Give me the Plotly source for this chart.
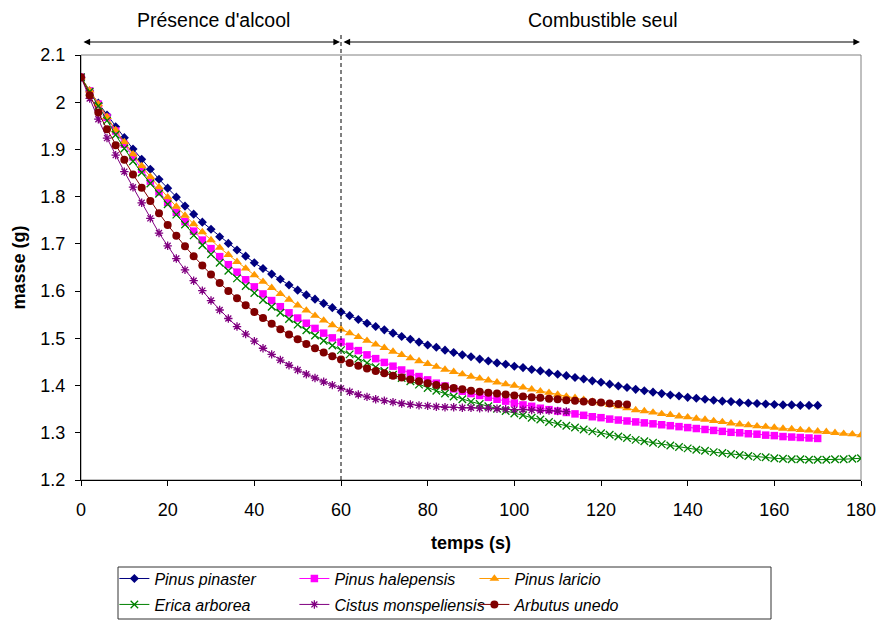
import plotly.graph_objects as go

# ---------------- data ----------------
temps = [0, 2, 4, 6, 8, 10, 12, 14, 16, 18, 20, 22, 24, 26, 28, 30, 32, 34, 36, 38,
         40, 42, 44, 46, 48, 50, 52, 54, 56, 58, 60, 62, 64, 66, 68, 70, 72, 74, 76, 78,
         80, 82, 84, 86, 88, 90, 92, 94, 96, 98, 100, 102, 104, 106, 108, 110, 112, 114,
         116, 118, 120, 122, 124, 126, 128, 130, 132, 134, 136, 138, 140, 142, 144, 146,
         148, 150, 152, 154, 156, 158, 160, 162, 164, 166, 168, 170, 172, 174, 176, 178, 180]

pinus_pinaster = [2.053, 2.024, 1.998, 1.973, 1.948, 1.925, 1.901, 1.879, 1.858, 1.837,
                  1.818, 1.799, 1.780, 1.763, 1.746, 1.731, 1.715, 1.701, 1.687, 1.674,
                  1.660, 1.648, 1.636, 1.625, 1.613, 1.602, 1.592, 1.583, 1.574, 1.565,
                  1.556, 1.548, 1.540, 1.532, 1.525, 1.518, 1.511, 1.504, 1.498, 1.492,
                  1.486, 1.481, 1.475, 1.470, 1.465, 1.461, 1.456, 1.452, 1.448, 1.445,
                  1.441, 1.438, 1.434, 1.431, 1.427, 1.424, 1.421, 1.417, 1.414, 1.410,
                  1.407, 1.403, 1.399, 1.396, 1.392, 1.389, 1.386, 1.383, 1.380, 1.378,
                  1.375, 1.373, 1.371, 1.369, 1.367, 1.366, 1.364, 1.363, 1.362, 1.361,
                  1.360, 1.359, 1.359, 1.358, 1.358, 1.358]

pinus_halepensis = [2.053, 2.024, 1.996, 1.968, 1.939, 1.911, 1.884, 1.858, 1.833, 1.810,
                    1.788, 1.767, 1.747, 1.727, 1.708, 1.690, 1.673, 1.656, 1.640, 1.624,
                    1.609, 1.594, 1.580, 1.567, 1.554, 1.543, 1.532, 1.521, 1.511, 1.501,
                    1.492, 1.483, 1.474, 1.465, 1.457, 1.449, 1.441, 1.433, 1.426, 1.419,
                    1.412, 1.405, 1.399, 1.393, 1.388, 1.383, 1.379, 1.375, 1.371, 1.367,
                    1.363, 1.359, 1.356, 1.352, 1.349, 1.346, 1.343, 1.340, 1.337, 1.334,
                    1.332, 1.329, 1.327, 1.325, 1.323, 1.321, 1.319, 1.317, 1.315, 1.313,
                    1.311, 1.309, 1.307, 1.305, 1.303, 1.301, 1.300, 1.298, 1.297, 1.295,
                    1.294, 1.292, 1.291, 1.290, 1.289, 1.288]

pinus_laricio = [2.053, 2.025, 1.996, 1.969, 1.941, 1.916, 1.890, 1.865, 1.842, 1.820,
                 1.799, 1.779, 1.760, 1.742, 1.725, 1.708, 1.692, 1.677, 1.662, 1.648,
                 1.634, 1.620, 1.607, 1.594, 1.582, 1.570, 1.559, 1.548, 1.538, 1.528,
                 1.519, 1.511, 1.503, 1.495, 1.487, 1.480, 1.472, 1.465, 1.458, 1.452,
                 1.446, 1.440, 1.434, 1.429, 1.424, 1.419, 1.415, 1.411, 1.407, 1.403,
                 1.400, 1.396, 1.392, 1.388, 1.385, 1.381, 1.377, 1.374, 1.370, 1.366,
                 1.363, 1.359, 1.356, 1.352, 1.348, 1.346, 1.343, 1.340, 1.338, 1.335,
                 1.333, 1.330, 1.328, 1.325, 1.323, 1.320, 1.318, 1.316, 1.314, 1.313,
                 1.311, 1.309, 1.308, 1.306, 1.305, 1.303, 1.302, 1.300, 1.298, 1.297, 1.295]

erica_arborea = [2.053, 2.022, 1.992, 1.961, 1.931, 1.902, 1.875, 1.851, 1.828, 1.806,
                 1.784, 1.762, 1.741, 1.718, 1.697, 1.678, 1.660, 1.643, 1.627, 1.611,
                 1.596, 1.581, 1.567, 1.554, 1.541, 1.529, 1.517, 1.506, 1.495, 1.485,
                 1.475, 1.466, 1.457, 1.448, 1.439, 1.431, 1.423, 1.416, 1.409, 1.402,
                 1.395, 1.389, 1.383, 1.377, 1.371, 1.366, 1.361, 1.356, 1.351, 1.346,
                 1.341, 1.337, 1.332, 1.328, 1.323, 1.319, 1.315, 1.311, 1.307, 1.303,
                 1.299, 1.296, 1.292, 1.289, 1.285, 1.282, 1.279, 1.276, 1.273, 1.270,
                 1.267, 1.264, 1.262, 1.259, 1.257, 1.255, 1.253, 1.251, 1.249, 1.248,
                 1.246, 1.245, 1.244, 1.244, 1.243, 1.243, 1.243, 1.244, 1.244, 1.245, 1.246]

cistus_monspeliensis = [2.053, 2.008, 1.964, 1.924, 1.888, 1.853, 1.820, 1.787, 1.754, 1.723,
                        1.696, 1.669, 1.645, 1.622, 1.601, 1.580, 1.560, 1.542, 1.525, 1.509,
                        1.494, 1.479, 1.466, 1.454, 1.443, 1.433, 1.424, 1.416, 1.408, 1.401,
                        1.394, 1.387, 1.381, 1.376, 1.371, 1.368, 1.365, 1.362, 1.360, 1.358,
                        1.357, 1.355, 1.354, 1.354, 1.353, 1.353, 1.352, 1.352, 1.351, 1.350,
                        1.349, 1.349, 1.348, 1.347, 1.347, 1.346, 1.345]

arbutus_unedo = [2.053, 2.015, 1.978, 1.943, 1.909, 1.878, 1.847, 1.819, 1.791, 1.765,
                 1.740, 1.717, 1.695, 1.674, 1.654, 1.635, 1.617, 1.600, 1.585, 1.570,
                 1.556, 1.543, 1.531, 1.519, 1.508, 1.498, 1.488, 1.479, 1.470, 1.462,
                 1.455, 1.448, 1.442, 1.436, 1.431, 1.426, 1.421, 1.417, 1.413, 1.409,
                 1.405, 1.401, 1.398, 1.395, 1.392, 1.389, 1.387, 1.385, 1.383, 1.381,
                 1.379, 1.377, 1.375, 1.374, 1.372, 1.371, 1.369, 1.368, 1.366, 1.365,
                 1.364, 1.362, 1.361, 1.360]

x_tick_vals = [0, 20, 40, 60, 80, 100, 120, 140, 160, 180]
y_tick_vals = [1.2, 1.3, 1.4, 1.5, 1.6, 1.7, 1.8, 1.9, 2.0, 2.1]
y_tick_labels = ["1.2", "1.3", "1.4", "1.5", "1.6", "1.7", "1.8", "1.9", "2", "2.1"]

phase_boundary = 60
phase_labels = ["Présence d'alcool", "Combustible seul"]

# ---------------- figure ----------------
FONT = "Liberation Sans, Arial, sans-serif"

# name, values, colour, symbol, size, outline width, legend row
series = [
    ("Pinus pinaster", pinus_pinaster, "#000080", "diamond", 7, None, "legend"),
    ("Pinus halepensis", pinus_halepensis, "#FF00FF", "square", 7.5, None, "legend"),
    ("Pinus laricio", pinus_laricio, "#FF9900", "triangle-up", 8.5, None, "legend"),
    ("Erica arborea", erica_arborea, "#008000", "x-thin", 7.5, 1.3, "legend2"),
    ("Cistus monspeliensis", cistus_monspeliensis, "#800080", "asterisk", 7, 1.3, "legend2"),
    ("Arbutus unedo", arbutus_unedo, "#800000", "circle", 8, None, "legend2"),
]

fig = go.Figure()
for name, ys, color, symbol, size, lw, leg in series:
    marker = dict(symbol=symbol, size=size, color=color)
    if lw:
        marker["line"] = dict(color=color, width=lw)
    else:
        marker["line"] = dict(width=0)
    fig.add_trace(go.Scatter(
        x=temps[:len(ys)], y=ys, name=name, mode="lines+markers",
        line=dict(color=color, width=1), marker=marker, legend=leg,
    ))

leg_common = dict(
    orientation="h", xanchor="left", yanchor="top",
    font=dict(family=FONT, size=16, style="italic", color="black"),
    borderwidth=0, bgcolor="rgba(0,0,0,0)",
    entrywidth=135, entrywidthmode="pixels", itemsizing="trace",
)

fig.update_layout(
    width=878, height=622,
    margin=dict(l=81, r=17, t=55, b=142, autoexpand=False),
    paper_bgcolor="white", plot_bgcolor="white",
    font=dict(family=FONT, size=18, color="black"),
    showlegend=True,
    legend=dict(x=0.0428, y=-0.192, **leg_common),
    legend2=dict(x=0.0428, y=-0.253, **leg_common),
    xaxis=dict(
        range=[0, 180], tickvals=x_tick_vals, ticks="outside", ticklen=5,
        tickcolor="black", showline=True, linecolor="black", linewidth=1,
        showgrid=False, zeroline=False, automargin=False, ticklabelstandoff=8,
        title=dict(text="<b>temps (s)</b>", standoff=17, font=dict(size=18)),
    ),
    yaxis=dict(
        range=[1.2, 2.1], tickvals=y_tick_vals, ticktext=y_tick_labels,
        ticks="outside", ticklen=5, tickcolor="black", showline=True,
        linecolor="black", linewidth=1, showgrid=False, zeroline=False,
        automargin=False, ticklabelstandoff=6,
        title=dict(text="<b>masse (g)</b>", standoff=10, font=dict(size=18)),
    ),
)

# plot area border (top/right grey)
fig.add_shape(type="rect", xref="paper", yref="paper", x0=0, x1=1, y0=0, y1=1,
              line=dict(color="#808080", width=1), layer="below")

# legend frame
fig.add_shape(type="rect", xref="paper", yref="paper",
              x0=(118 - 81) / 780, x1=(771 - 81) / 780,
              y0=(480 - 619) / 425, y1=(480 - 567) / 425,
              line=dict(color="#333333", width=1), layer="below")

# dashed separator
fig.add_shape(type="line", xref="x", yref="paper", x0=phase_boundary, x1=phase_boundary,
              y0=0, y1=1.052, line=dict(color="black", width=1, dash="4px,3px"))

# double-headed arrows
arrow_y = 1.0306
for x0, x1 in [(0, phase_boundary), (phase_boundary, 180)]:
    fig.add_annotation(x=x1, y=arrow_y, ax=x0, ay=0, xref="x", yref="paper",
                       axref="x", ayref="pixel", text="", showarrow=True,
                       arrowhead=2, arrowside="end+start", arrowsize=1.1,
                       arrowwidth=1.2, arrowcolor="black", standoff=1, startstandoff=1)

fig.add_annotation(x=phase_boundary / 2 + 0.5, y=1.082, xref="x", yref="paper",
                   yanchor="middle", text=phase_labels[0], showarrow=False,
                   font=dict(family=FONT, size=19.5, color="black"))
fig.add_annotation(x=120.5, y=1.082, xref="x", yref="paper",
                   yanchor="middle", text=phase_labels[1], showarrow=False,
                   font=dict(family=FONT, size=19.5, color="black"))

fig.write_html(
    "out.html",
    config={"displayModeBar": False},
    post_script="document.body.style.margin='0';document.body.style.overflow='hidden';",
)
